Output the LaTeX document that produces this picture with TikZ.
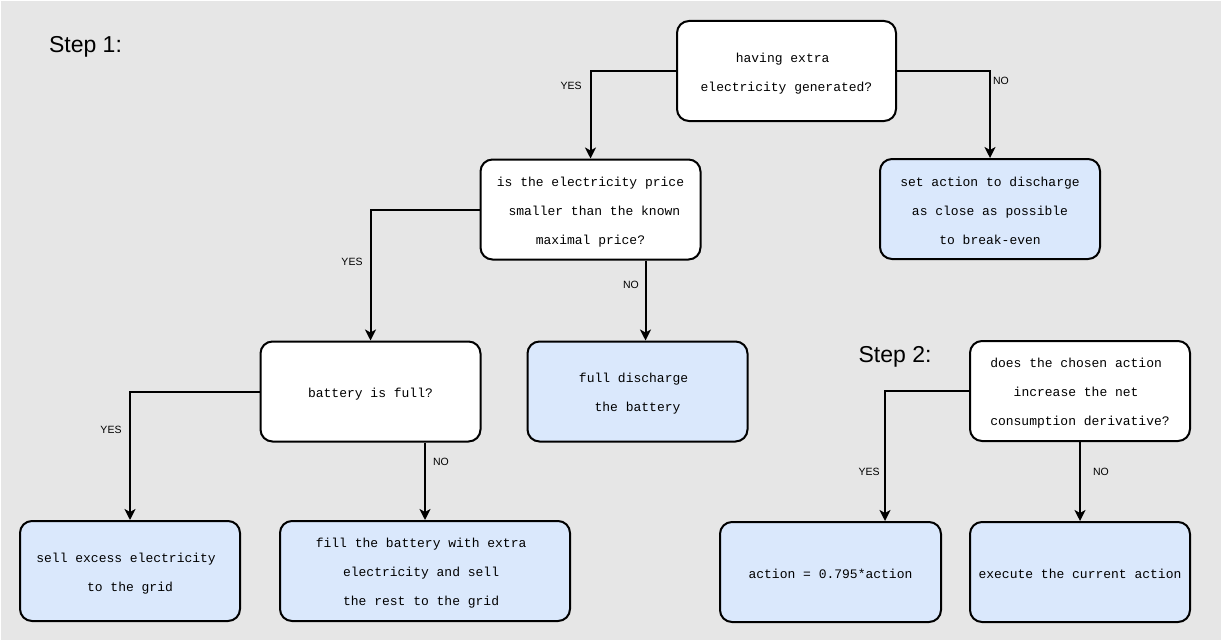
\documentclass[tikz,border=0pt]{standalone}
\usepackage{fontspec}
\setmainfont{Liberation Sans}
\newfontfamily\boxfont{Liberation Mono}
\usetikzlibrary{arrows.meta}
\definecolor{bgcol}{HTML}{E6E6E6}
\definecolor{actfill}{HTML}{DAE8FC}
\newcommand{\tsp}{\hphantom{x}}
\newcommand{\tup}{\rule{0pt}{14pt}}
\begin{document}
\begin{tikzpicture}[x=1pt,y=-1pt,
  box/.style={draw=black, line width=2pt, rounded corners=12pt, minimum width=220pt, minimum height=100pt, align=center, font=\boxfont\fontsize{13}{29}\selectfont, inner sep=0pt},
  question/.style={box, fill=white},
  action/.style={box, fill=actfill},
  arr/.style={line width=2pt, -{Stealth[length=11pt,width=11pt,inset=3pt]}},
  lbl/.style={font=\fontsize{10.5}{12}\selectfont, inner sep=0pt},
  steplbl/.style={font=\fontsize{23}{26}\selectfont, inner sep=0pt}]
\useasboundingbox (0,0) rectangle (1223,642);
\fill[white] (0,0) rectangle (1223,642);
\fill[bgcol] (1,1) rectangle (1221,640);

% step labels
\node[steplbl] (s1) at (85.5,47) {Step 1:};
\node[steplbl] (s2) at (895,357) {Step 2:};

% boxes
\node[question, minimum width=219pt] (A) at (786.5,71) {\tup having extra\tsp\\electricity generated?};
\node[question] (B) at (590.5,209.5) {\tup is the electricity price\\\tsp smaller than the known\\maximal price?};
\node[action] (C) at (990,209) {\tup set action to discharge\\as close as possible\\to break-even};
\node[question] (D) at (370.5,391.5) {\tup battery is full?};
\node[action] (E) at (637.5,391.5) {\tup full discharge\tsp\\the battery};
\node[question] (F) at (1080,391) {\tup does the chosen action\tsp\\increase the net\tsp\\consumption derivative?};
\node[action, minimum width=221pt] (G) at (830.5,572) {\tup action = 0.795*action};
\node[action] (H) at (1080,572) {\tup execute the current action};
\node[action] (I) at (130,571) {\tup sell excess electricity\tsp\\to the grid};
\node[action, minimum width=290pt] (J) at (425,571) {\tup fill the battery with extra\tsp\\electricity and sell\tsp\\the rest to the grid\tsp};

% connectors
\draw[arr] (A.west) -| (B.north);
\draw[arr] (A.east) -| (C.north);
\draw[arr] (B.west) -| (D.north);
\draw[arr] ([xshift=55pt]B.south) -- ([xshift=55pt]B.south |- E.north);
\draw[arr] (D.west) -| (I.north);
\draw[arr] (D.south -| J.north) -- (J.north);
\draw[arr] (F.west) -| ([xshift=54.5pt]G.north);
\draw[arr] (F.south) -- (H.north);

% connector labels
\node[lbl] (l1) at (571,86) {YES};
\node[lbl] (l2) at (1001,81) {NO};
\node[lbl] (l3) at (352,262) {YES};
\node[lbl] (l4) at (631,285) {NO};
\node[lbl] (l5) at (111,430) {YES};
\node[lbl] (l6) at (441,462) {NO};
\node[lbl] (l7) at (869,472) {YES};
\node[lbl] (l8) at (1101,472) {NO};
\end{tikzpicture}
\end{document}
